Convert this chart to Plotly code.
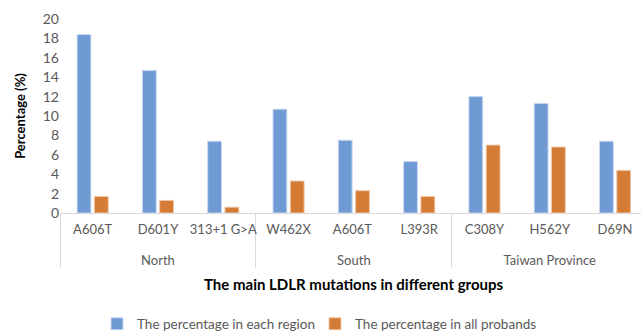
import plotly.graph_objects as go

groups = ["North", "North", "North", "South", "South", "South",
          "Taiwan Province", "Taiwan Province", "Taiwan Province"]
# trailing space keeps the second A606T distinct so plotly keeps trace order
mutations = ["A606T", "D601Y", "313+1 G>A", "W462X", "A606T ", "L393R",
             "C308Y", "H562Y", "D69N"]
region_pct = [18.4, 14.7, 7.4, 10.7, 7.5, 5.3, 12.0, 11.3, 7.4]
all_pct = [1.7, 1.3, 0.6, 3.3, 2.3, 1.7, 7.0, 6.8, 4.4]

FONT = "Lato, 'Open Sans', sans-serif"
GRAY = "#595959"

# group labels get a blank first line to widen the gap between label rows
group_labels = ["&nbsp;<br>" + g for g in groups]

fig = go.Figure()
fig.add_trace(go.Bar(
    x=[group_labels, mutations], y=region_pct, name="The percentage in each region",
    marker=dict(color="#6F9BD5", line=dict(color="#C9D8F0", width=1)),
    legendwidth=173,
))
fig.add_trace(go.Bar(
    x=[group_labels, mutations], y=all_pct, name="The percentage in all probands",
    marker=dict(color="#D47B36", line=dict(color="#F0C8A8", width=1)),
))

fig.update_layout(
    width=641, height=331,
    margin=dict(l=60, r=0, t=19, b=118),
    paper_bgcolor="white", plot_bgcolor="white",
    barmode="group", bargap=0.47, bargroupgap=0.2,
    font=dict(family=FONT, size=13, color=GRAY),
    showlegend=True,
    legend=dict(orientation="h", xref="container", yref="container",
                x=97/641, xanchor="left", y=1-324/331, yanchor="middle",
                font=dict(family=FONT, size=13.5, color=GRAY),
                itemwidth=30, traceorder="normal"),
    xaxis=dict(
        type="multicategory",
        range=[-0.5, 8.397],
        tickangle=0,
        ticklabelstandoff=4,
        showline=True, linecolor="#D9D9D9", linewidth=1,
        showdividers=True, dividercolor="#D9D9D9", dividerwidth=1,
        tickfont=dict(family=FONT, size=13, color=GRAY),
        showgrid=False, zeroline=False,
    ),
    yaxis=dict(
        range=[0, 20], dtick=2, showgrid=False, zeroline=False,
        showline=False, ticks="",
        tickfont=dict(family=FONT, size=14, color=GRAY),
        automargin=True,
        title=dict(text="<b>Percentage (%)</b>",
                   font=dict(family=FONT, size=13, color="#000000"),
                   standoff=14),
    ),
    annotations=[dict(
        text="<b>The main LDLR mutations in different groups</b>",
        xref="paper", yref="paper", x=(354-60)/581, y=(213-284)/194,
        xanchor="center", yanchor="middle", showarrow=False,
        font=dict(family=FONT, size=15, color="#000000"),
    )],
)

fig.write_html("out.html")
